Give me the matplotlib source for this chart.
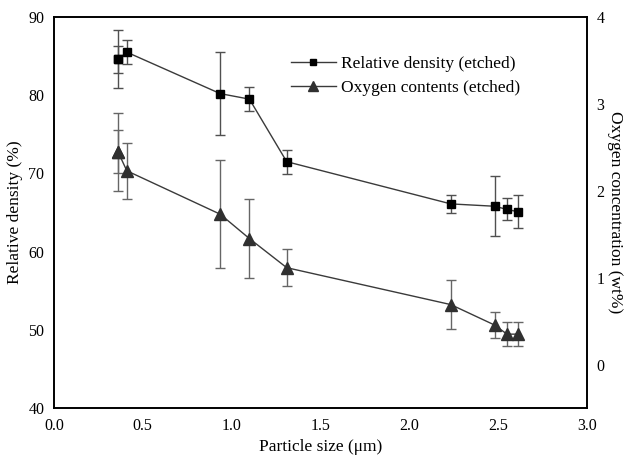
import numpy as np
from matplotlib import pyplot as plt
from matplotlib.lines import Line2D

size = [0.36, 0.36, 0.41, 0.936, 1.10, 1.31, 2.234, 2.48, 2.55, 2.61]
density = [84.6, 84.6, 85.5, 80.2, 79.5, 71.5, 66.1, 65.8, 65.4, 65.1]
density_err = [3.7, 1.7, 1.5, 5.3, 1.5, 1.55, 1.1, 3.85, 1.4, 2.1]
oxygen = [2.45, 2.45, 2.23, 1.73, 1.45, 1.115, 0.69, 0.455, 0.35, 0.35]
oxygen_err = [0.45, 0.25, 0.32, 0.62, 0.45, 0.21, 0.28, 0.15, 0.14, 0.14]

plt.rcParams['font.family'] = ['Liberation Serif', 'DejaVu Serif']

fig = plt.figure(figsize=(6.27, 4.57), dpi=100)
ax = fig.add_axes([0.0861, 0.1072, 0.850, 0.8556])
ax2 = ax.twinx()

ax.errorbar(size, density, yerr=density_err, fmt='s-', color='#3a3a3a',
            mfc='black', mec='black', ms=6, lw=1, ecolor='#505050',
            elinewidth=1, capsize=3.5, capthick=1)
ax2.errorbar(size, oxygen, yerr=oxygen_err, fmt='^-', color='#3a3a3a',
             mfc='#303030', mec='#303030', ms=8.5, lw=1, ecolor='#666666',
             elinewidth=1, capsize=3.5, capthick=1)

ax.set_xlim(0, 3.0)
ax.set_ylim(40, 90)
ax2.set_ylim(-0.5, 4)
ax.set_xticks(np.arange(0, 3.01, 0.5))
ax.set_yticks(np.arange(40, 91, 10))
ax2.set_yticks([0, 1, 2, 3, 4])
ax.set_xticklabels(['%.1f' % v for v in np.arange(0, 3.01, 0.5)])

for a in (ax, ax2):
    a.tick_params(length=0, labelsize=11.5, pad=7)
    for s in a.spines.values():
        s.set_linewidth(1.2)
        s.set_color('black')

ax.set_xlabel('Particle size (\u03bcm)', fontsize=12.5, labelpad=4)
ax.set_ylabel('Relative density (%)', fontsize=12.5, labelpad=4)
ax2.set_ylabel('Oxygen concentration (wt%)', fontsize=12.5, rotation=270,
               labelpad=13)

handles = [Line2D([], [], color='#3a3a3a', lw=1, marker='s', ms=5,
                  mfc='black', mec='black'),
           Line2D([], [], color='#3a3a3a', lw=1, marker='^', ms=7,
                  mfc='#303030', mec='#303030')]
ax2.legend(handles, ['Relative density (etched)', 'Oxygen contents (etched)'],
           loc='upper left', bbox_to_anchor=(0.415, 0.94), frameon=False,
           fontsize=12.5, handlelength=2.6, handletextpad=0.3,
           labelspacing=0.45)

fig.savefig('out.png', dpi=100)
